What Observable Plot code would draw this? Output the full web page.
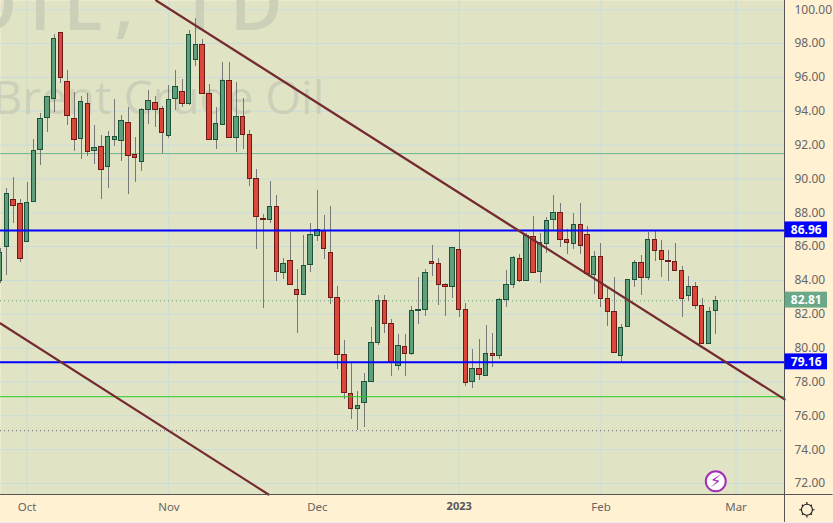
<!DOCTYPE html>
<html><head><meta charset="utf-8">
<script src="https://cdn.jsdelivr.net/npm/d3@7"></script>
<script src="https://cdn.jsdelivr.net/npm/@observablehq/plot@0.6"></script>
<style>html,body{margin:0;padding:0;background:#ebebf3;overflow:hidden}svg{display:block}</style>
</head><body><div id="c"></div>
<script>
const opens=[83.96,85.97,88.77,88.53,86.27,88.63,91.70,93.60,94.72,98.64,95.74,93.56,92.35,94.44,91.65,91.90,90.70,92.30,92.24,93.32,91.43,91.00,94.07,94.50,94.15,92.53,94.72,95.15,94.42,97.02,97.93,95.03,92.30,93.18,95.80,92.41,93.67,92.61,90.01,87.65,87.57,88.36,84.43,85.16,83.45,83.13,84.90,86.62,86.95,85.63,82.97,79.61,77.30,76.39,76.75,77.99,80.29,82.80,81.44,78.94,80.08,79.64,82.21,82.25,85.10,84.98,83.74,83.60,85.81,82.27,77.99,78.78,78.34,79.66,79.53,82.84,83.72,85.28,83.96,86.58,84.49,86.15,87.57,88.00,86.40,86.15,87.29,86.70,84.31,85.40,82.92,82.15,79.53,81.24,84.02,85.04,84.14,86.40,85.75,85.18,85.10,84.57,83.07,83.63,82.50,80.24,82.19];
const closes=[85.64,89.12,88.42,85.26,88.59,91.67,93.56,94.86,98.28,95.96,93.71,92.30,94.56,91.59,91.84,90.52,92.49,92.49,93.44,91.35,91.23,94.09,94.62,94.07,92.71,94.68,95.45,94.42,98.52,97.93,95.01,92.30,93.26,95.80,92.41,93.67,92.59,89.99,87.74,87.59,88.36,84.49,84.98,83.72,83.13,84.87,86.66,86.97,85.85,82.95,79.59,77.34,76.39,76.59,78.01,80.31,82.80,81.42,79.11,80.14,79.64,82.21,82.27,84.45,84.96,83.72,83.60,85.93,82.25,77.93,78.78,78.40,79.66,79.53,82.86,83.74,85.34,83.96,86.64,84.43,86.23,87.53,88.00,86.38,86.21,87.29,86.03,84.37,85.40,82.92,82.13,79.70,81.20,84.04,85.04,84.14,86.40,85.73,85.20,85.08,84.55,82.90,83.63,82.48,80.24,82.15,82.80];
const highs=[85.90,89.42,90.07,88.77,89.79,92.32,93.89,94.90,98.54,98.64,96.41,95.09,94.86,95.05,93.16,92.57,92.81,94.70,93.73,94.23,92.45,94.19,95.23,94.86,94.27,95.53,96.41,95.88,98.76,99.47,98.23,95.59,94.23,96.89,96.89,95.68,94.76,92.87,90.56,87.88,89.85,89.02,85.30,86.84,84.65,86.66,87.37,89.32,87.84,88.37,83.64,80.45,79.17,77.44,78.50,81.20,83.11,83.11,81.69,80.81,80.81,82.46,84.18,84.67,86.07,85.30,83.84,85.93,86.95,82.62,79.92,80.51,81.34,80.87,82.93,84.59,85.42,85.54,86.80,87.78,86.76,87.70,89.02,88.55,86.99,87.96,88.55,87.19,85.73,86.19,83.51,84.16,81.40,84.04,85.18,85.48,86.86,86.92,86.36,85.77,86.19,84.83,84.24,83.88,82.94,82.40,83.04];
const lows=[83.80,84.30,87.39,85.08,86.27,88.63,90.80,92.75,93.93,95.66,93.16,91.63,91.15,91.33,90.86,88.79,89.44,91.92,91.03,89.08,89.79,90.44,93.22,93.04,91.49,92.39,94.05,94.25,94.34,96.67,95.01,92.30,91.74,93.18,92.41,91.57,91.74,89.56,85.83,82.35,87.37,83.94,84.06,83.72,80.87,83.13,84.47,86.30,85.24,82.58,78.74,76.97,75.78,75.13,75.31,77.99,80.16,80.87,78.33,78.68,78.33,79.57,81.40,81.89,84.24,82.52,81.87,82.93,81.81,77.73,77.62,78.09,78.34,78.88,79.33,82.40,83.55,83.88,83.96,84.43,83.84,85.60,86.96,85.95,85.54,85.83,85.54,84.37,83.17,82.42,81.28,79.70,79.15,81.24,83.59,83.11,84.00,85.12,84.18,83.94,84.55,81.81,82.78,82.29,80.24,80.24,80.81];
const xDomain=[0.062,116.18], yDomain=[71.35,100.55];
const priceTicks=d3.range(72,101,2);
const monthIdx=[4,25,47,89,109], monthLabels=["Oct","Nov","Dec","Feb","Mar"];
const yearIdx=[68], yearLabels=["2023"];
const trendIdx=[[23.12,116.2],[0.06,39.75]], trendPrice=[[100.55,76.97],[81.46,71.35]];
const blueLevels=[86.96,79.16], greenLevel=[77.13], tealLevel=[91.5], lastPrice=[82.80], lowDotted=[75.12];
const labels=[{v:86.96,t:"86.96",c:"#0000ff"},{v:79.16,t:"79.16",c:"#0000ff"},{v:82.81,t:"82.81",c:"#6aa888"}];
const candles=opens.map((o,i)=>({i,o,c:closes[i],h:highs[i],l:lows[i],up:closes[i]>=o}));
const font="'Noto Sans',sans-serif";
const labelX=[116.25,122.55];
const chart=Plot.plot({
  width:833,height:522,marginLeft:0,marginTop:0,marginRight:49,marginBottom:28,
  style:{background:"#fff1d2",fontFamily:font,fontSize:"11px",overflow:"hidden"},
  x:{type:"linear",domain:xDomain,axis:null},
  y:{type:"linear",domain:yDomain,axis:null},
  marks:[
    Plot.frame({fill:"#e0e4c5",stroke:null}),
    Plot.ruleY(priceTicks,{stroke:"#c9dcdc",strokeWidth:1}),
    Plot.ruleX(monthIdx.concat(yearIdx),{stroke:"#c9dcdc",strokeWidth:1}),
    Plot.text(["OIL, 1D"],{frameAnchor:"top-left",dx:-40,dy:29,lineAnchor:"bottom",textAnchor:"start",fontSize:72,fontWeight:600,fontFamily:"'Open Sans',sans-serif",fill:"#cdd0b9",className:"wm-top"}),
    Plot.text(["Brent Crude Oil"],{frameAnchor:"top-left",dx:-8,dy:113,lineAnchor:"bottom",textAnchor:"start",fontSize:46,fontFamily:"'Open Sans',sans-serif",fill:"#cdd0b9"}),
    Plot.ruleY(tealLevel,{stroke:"#6fb590",strokeWidth:1}),
    Plot.ruleY(lastPrice,{stroke:"#5f9f7c",strokeWidth:1,strokeDasharray:"1,3"}),
    Plot.ruleY(lowDotted,{stroke:"#63637a",strokeWidth:1,strokeDasharray:"1,3"}),
    Plot.ruleX(candles,{x:"i",y1:"l",y2:"h",stroke:"#787878",strokeWidth:1,shapeRendering:"crispEdges"}),
    Plot.rect(candles,{x1:d=>d.i-0.33,x2:d=>d.i+0.33,y1:d=>Math.min(d.o,d.c),y2:d=>Math.max(d.o,d.c),fill:d=>d.up?"#5f9f7c":"#d9483a",stroke:d=>d.up?"#1c5238":"#6e1a16",strokeWidth:1,shapeRendering:"crispEdges"}),
    Plot.ruleY(greenLevel,{stroke:"#22cc22",strokeWidth:1}),
    Plot.ruleY(blueLevels,{stroke:"#0000ff",strokeWidth:2}),
    Plot.line(trendIdx.flatMap((xs,k)=>xs.map((x,j)=>({x,y:trendPrice[k][j],k}))),{x:"x",y:"y",z:"k",stroke:"#742a30",strokeWidth:2.2}),
    Plot.ruleX([xDomain[1]],{y1:yDomain[0]-1.65,y2:yDomain[1],stroke:"#555",strokeWidth:1}),
    Plot.ruleY([yDomain[0]],{x1:0,x2:xDomain[1]+7.2,stroke:"#555",strokeWidth:1}),
    Plot.axisY(priceTicks,{anchor:"right",tickSize:0,tickPadding:10,textAnchor:"start",tickFormat:d=>d.toFixed(2),fill:"#666",fontSize:12}),
    Plot.axisX(monthIdx,{anchor:"bottom",tickSize:0,tickPadding:8,tickFormat:(d,i)=>monthLabels[monthIdx.indexOf(d)],fill:"#666",fontSize:11.5}),
    Plot.axisX(yearIdx,{anchor:"bottom",tickSize:0,tickPadding:8,tickFormat:()=>yearLabels[0],fill:"#555",fontWeight:700,fontSize:11}),
    Plot.rect(labels,{x1:labelX[0],x2:labelX[1],y1:d=>d.v-0.44,y2:d=>d.v+0.5,fill:"c"}),
    Plot.text(labels,{x:d=>(labelX[0]+labelX[1])/2,y:d=>d.v+0.03,text:"t",fill:"#fff",fontWeight:700,fontSize:12}),
    Plot.dot([{x:106,y:72.13}],{x:"x",y:"y",r:10,fill:"#fff",stroke:"#a32cb4",strokeWidth:2}),
    Plot.text([{x:106,y:72.13}],{x:"x",y:"y",text:()=>"\u26A1\uFE0E",fill:"#a32cb4",fontSize:17,fontFamily:"'DejaVu Sans'"}),
    Plot.dot([{x:119.5,y:70.45}],{x:"x",y:"y",symbol:"plus",r:5,stroke:"#222",strokeWidth:1.2}),
    Plot.dot([{x:119.5,y:70.45}],{x:"x",y:"y",symbol:"times",r:4.6,stroke:"#222",strokeWidth:1.2}),
    Plot.dot([{x:119.5,y:70.45}],{x:"x",y:"y",r:5.5,fill:"#fff1d2",stroke:"#222",strokeWidth:1.2})
  ]
});
d3.select(chart).selectAll(".wm-top text").style("letter-spacing","12px");
document.getElementById("c").appendChild(chart);
</script></body></html>
